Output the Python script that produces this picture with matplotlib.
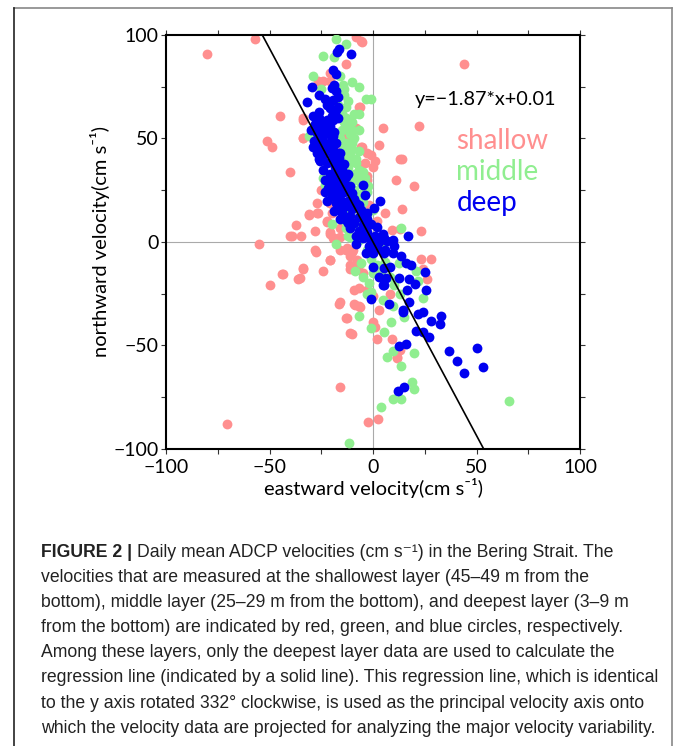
import matplotlib
matplotlib.use("Agg")
import matplotlib.pyplot as plt
from matplotlib import font_manager
from matplotlib.lines import Line2D

# daily mean ADCP velocities (cm/s)
shallow_x = [-57, -80, -8, -6, 44, -13, -21, -24, -7, -45, -34, -12, 5, 22, -51, -49, -34, -11, -10, -6,
             3, -3, 1, -1, -4, -7, -3, 13, 14, 11, 20, -40, -27, -31, -27, -21, 6, 14, -37, -40,
             -35, -28, -22, -16, -21, -19, 23, 9, -55, -28, -13, -10, -21, -34, -24, -44, -36, -50, -11, -11,
             23, 28, 24, 26, -7, -3, -9, 0, -16.6, -9, -7, 3, -13, 0, 1, -11, 2, 9, 11.6, -15.8,
             -2.6, 2.3, -70.5, -30.8, -26.7, -39.3, -20.8, -20, -22, -20.8, -19.3, -16, -27.7, -20.8, -33.8, -43.6, -35.3, -16, -12.7, -9.5,
             -7.9, -11, -7, -4.7, -16, -12.7, -10.3, -8.7, -6.3, 8, 13, 11.4, -20.8, -26.5, -6.3, -33.8, -33.8, -9.5, -5.5, -11,
             -5.5, -18, -14, -10, -5, -2, -25, -20, -3, 0, -17, -14, -8, 13, 2, -2]
shallow_y = [98, 91, 99, 97, 86, 86, 78, 78, 65, 61, 59, 58, 55, 56, 49, 46, 50, 51, 49, 46,
             47, 43, 39, 42, 38, 37, 32, 40, 40, 30, 27, 34, 19, 13, 14, 19, 14, 16, 8, 3,
             3, 5.5, 10, 6.6, 4, 2, 5.5, 6, -1, -4, -4, -5, -8.5, -13, -14, -15.5, -18, -21, -7, -13,
             -8, -8, -13, -18, -22, -23, -23, -26, -30, -30, -31, -33, -36.5, -38.5, -41, -44, -47, -47, -56, -70,
             -87, -85.5, -88, 13.4, 14.2, 2.9, 18.8, 14, 9.8, 5, 1.9, 2.6, -4.7, -8.7, -12.6, -15.5, -17.2, -3.9, -3, -3.9,
             -8.7, -11, -11, -15, -29, -36.9, -44.4, -30.4, -31.5, -25, -52, -55.4, 81.5, 78, 65.4, 60, 50.2, 50, 46, 47,
             96.7, 35, 28, 22, 12, 8, 25, 28, 30, 36, 45, 52, 55, 6.4, 10, 18]

middle_x = [-18, -13, -24, -19, -29, -16, -14.6, -10, -7, -3.4, -1, -25, -14, -14, -13, -12, -10, -6.6, -31, -14,
            -12, -10, -7, -7, -4, -4, -2.6, -23, -5, -5, 0, -14, -10, -7, -9, -12, -11, -18, 13.5, -20,
            1, 4.7, 6, 12.7, -8.5, -5, -2, 0, 20.8, 21.6, 24, 4.7, 9.5, -7, 15, 8.7, -1, 5.5, 9.7, 6.6,
            13.5, 20, 19, 20, 9.8, 13.5, 3.9, 65.5, -11.4, -15, -13, -14, -11, -16, -13, -10, -15, -11, -8, -12,
            -9, -11, -6, -9, -3, -8, -6, -3, -11, -8, -13, -6, -4, -7, -3, -1, 2, -6, 4, 8,
            10, 13, -20, -24, -18, -16, -3, -1, -12, -9, -15, -17, -13, -10,
            -9, -7, -11, -8, -5, -9, -6, -12, -10, -7]
middle_y = [98, 95.5, 90, 89.5, 80, 80, 76, 77.5, 75, 69, 69, 74, 74, 71, 65, 56, 54, 54, 51, 46,
            43, 39, 35, 32, 31, 27, 27, 27.5, 22, 19.5, 15.5, 10.6, 9, 5.8, 2, 3, 2.5, -1, 7, 8.7,
            -0.6, -2, -9.5, -10, -14, -17, -20, -15, -14, -19, -27, -28, -31, -35.6, -36, -38.5, -41.7, -43.6, -52.5, -55.4,
            -59.7, -53.8, -67.5, -71, -76, -76, -79.5, -77, -97, 62, 60, 58, 52, 50, 48, 45, 40, 42, 40, 36,
            33, 30, 28, 25, 24, 20, 16, 13, 14, 11, 7, 8, 4, 1, -4, -8, -11, -10, -14, -17,
            -21, -25, 25, 31, 40, 35, -25, -24, 68, 62, 54, 66, 44, 48,
            50, 44, 47, 38, 34, 30, 23, 38, 58, 62]

deep_x = [-17.5, -16.6, -10.6, -19.5, -18, -19, -18, -20, -29.6, -26, -23, -19.5, -32, -21, -18, -17, -29, -26, -22, -19.5,
          -17, -30, -27.5, -25, -21, -19.5, -29, -26.7, -24, -21, -19.5, -17, -14, -5, -4, 3.5, 0.6, 2, 4.7, 17,
          5.5, 9.5, 10.3, -3.4, 0, 5.5, 9.5, 13.7, 16, 18.4, 0, 5.5, 8, 25, 3, 6.3, 12.7, 17.5, 4.7, 5.5,
          20.5, 16.6, 25.6, -1, 7.6, 17.5, 14.3, 14.5, 21.7, 24, 33, 28, 32.4, 21, 24, 27.2, 36.6, 40.4, 44, 50.2,
          53, 12.4, 16, 12, 14.8,
          -28, -24.5, -21, -27, -23, -19, -28.5, -25, -22, -18, -27, -24, -20, -16.5, -25.5, -22, -18.5, -15, -24, -21,
          -17, -13, -23, -19, -15.5, -11, -21.5, -18, -14, -10, -20, -16, -12, -8, -18, -14, -10, -6, -15, -11,
          -7, -3, -13, -9, -5, -1, -11, -7, -3, 1, -5, -1, 3, 7, -2, 2, 6, -8, -20, -23,
          -12, -16, -26, -22, -17, -20, -24, -13, -9, -3, -16, -19, -25,
          -23, -20, -26, -17, -21, -14, -18, -11, -15, -7, -12, -4, -8, -22, -19, -16]
deep_y = [92, 93, 91, 83, 81, 76, 73, 74.5, 75, 71, 69, 68.6, 67.5, 64.5, 63.8, 65.4, 61, 60, 59, 59,
          60, 54, 55, 56, 54, 51, 46, 48, 49, 47.7, 44.4, 43, 37.7, 27.5, 22.7, 20, 16.3, 7.4, 4, 3,
          1.8, 1, -2, -5.5, -5.5, -5.5, -5.5, -7, -10, -11, -12, -12.7, -12, -14.3, -16.7, -17.5, -17.5, -18, -20.8, -20.8,
          -20.5, -23, -23, -27.7, -30, -28.8, -32.8, -34, -35, -33.6, -35.6, -38, -39.6, -42.8, -43.3, -46, -52.7, -57.3, -63.4, -51.4,
          -60.2, -50.2, -49.3, -71.8, -70.2,
          57, 58.5, 56, 52.5, 52, 53, 49, 45, 46.5, 48, 43, 42, 41, 40.5, 39, 38, 36, 35, 35, 33,
          32, 31.5, 30, 29, 28, 27, 26, 25, 24, 23.5, 22, 21, 20, 19, 19, 17, 16, 15.5, 14, 12.5,
          12, 11, 10.5, 9, 8, 8.5, 7, 5.5, 5, 3, 2, 1, 0, 0.5, -2, -3, -4, -1, 32, 24,
          33, 43, 63, 66, 70, 61, 55, 27, 21, 14, 26, 38, 50,
          44, 50, 40, 36, 27, 30, 22, 24, 17, 18, 9, 9, 3, 20, 15, 11]

slope, intercept = -1.87, 0.01
ticks_major = [-100, -50, 0, 50, 100]
ticks_minor = [-75, -25, 25, 75]

names = {f.name for f in font_manager.fontManager.ttflist}
narrow = 'Liberation Sans Narrow' if 'Liberation Sans Narrow' in names else 'Liberation Sans'
tick_font = ['Lato', 'DejaVu Sans']
cap_font = [narrow, 'DejaVu Sans']

W, H = 673, 746
fig = plt.figure(figsize=(W / 100, H / 100), dpi=100)
ax = fig.add_axes([166 / W, 1 - 449 / H, 414 / W, 414 / H])

c_shallow = '#ff8f8f'
c_middle = '#90ee90'
c_deep = '#0000f0'
dot = 50

ax.axhline(0, color='#aaaaaa', lw=0.8, zorder=1)
ax.axvline(0, color='#aaaaaa', lw=0.8, zorder=1)
ax.scatter(shallow_x, shallow_y, s=dot, color=c_shallow, lw=0, zorder=2)
ax.scatter(middle_x, middle_y, s=dot, color=c_middle, lw=0, zorder=3)
ax.scatter(deep_x, deep_y, s=dot, color=c_deep, lw=0, zorder=4)

yl = [-100, 100]
xl = [(v - intercept) / slope for v in yl]
ax.plot(xl, yl, color='black', lw=1.2, zorder=5)

ax.set_xlim(-100, 100)
ax.set_ylim(-100, 100)
ax.set_xticks(ticks_major)
ax.set_yticks(ticks_major)
ax.set_xticks(ticks_minor, minor=True)
ax.set_yticks(ticks_minor, minor=True)
ax.set_xticklabels([str(t).replace('-', '\u2212') for t in ticks_major], family=tick_font, fontsize=14)
ax.set_yticklabels([str(t).replace('-', '\u2212') for t in ticks_major], family=tick_font, fontsize=14)
ax.tick_params(which='both', direction='out', length=3.5, width=0.8, color='#333333',
               top=True, right=True, pad=2)
ax.tick_params(axis='x', pad=4)
for s in ax.spines.values():
    s.set_linewidth(1.5)

ax.set_xlabel('eastward velocity(cm s\u207b\u00b9)', family=tick_font, fontsize=14.5, labelpad=1)
ax.set_ylabel('northward velocity(cm s\u207b\u00b9)', family=tick_font, fontsize=14.5, labelpad=2)

ax.text(20.3, 69, 'y=\u22121.87*x+0.01', family=tick_font, fontsize=14.3, va='center', zorder=6)
ax.text(40.3, 49, 'shallow', color=c_shallow, family=tick_font, fontsize=20, va='center')
ax.text(40.3, 34, 'middle', color=c_middle, family=tick_font, fontsize=20, va='center')
ax.text(40.3, 19, 'deep', color=c_deep, family=tick_font, fontsize=20, va='center')

# caption frame
fig.add_artist(Line2D([14 / W, 672 / W], [1 - 8 / H, 1 - 8 / H], color='#888888', lw=1.2))
fig.add_artist(Line2D([672 / W, 672 / W], [1 - 8 / H, 0], color='#888888', lw=1.2))
fig.add_artist(Line2D([14 / W, 14 / W], [1 - 8 / H, 0], color='#222222', lw=1.2))

caption = [
    'Daily mean ADCP velocities (cm s\u207b\u00b9) in the Bering Strait. The',
    'velocities that are measured at the shallowest layer (45\u201349 m from the',
    'bottom), middle layer (25\u201329 m from the bottom), and deepest layer (3\u20139 m',
    'from the bottom) are indicated by red, green, and blue circles, respectively.',
    'Among these layers, only the deepest layer data are used to calculate the',
    'regression line (indicated by a solid line). This regression line, which is identical',
    'to the y axis rotated 332\u00b0 clockwise, is used as the principal velocity axis onto',
    'which the velocity data are projected for analyzing the major velocity variability.',
]
x0 = 41
base0 = 557
step = 25.1
csize = 12.7
bold = fig.text(x0 / W, 1 - base0 / H, 'FIGURE 2 | ', family=cap_font, fontsize=csize,
                weight='bold', va='baseline', color='#222222')
r = fig.canvas.get_renderer()
bb = bold.get_window_extent(renderer=r)
for i, line in enumerate(caption):
    xs = bb.x1 / W if i == 0 else x0 / W
    fig.text(xs, 1 - (base0 + i * step) / H, line, family=cap_font, fontsize=csize,
             va='baseline', color='#222222')

fig.savefig('out.png', dpi=100)
